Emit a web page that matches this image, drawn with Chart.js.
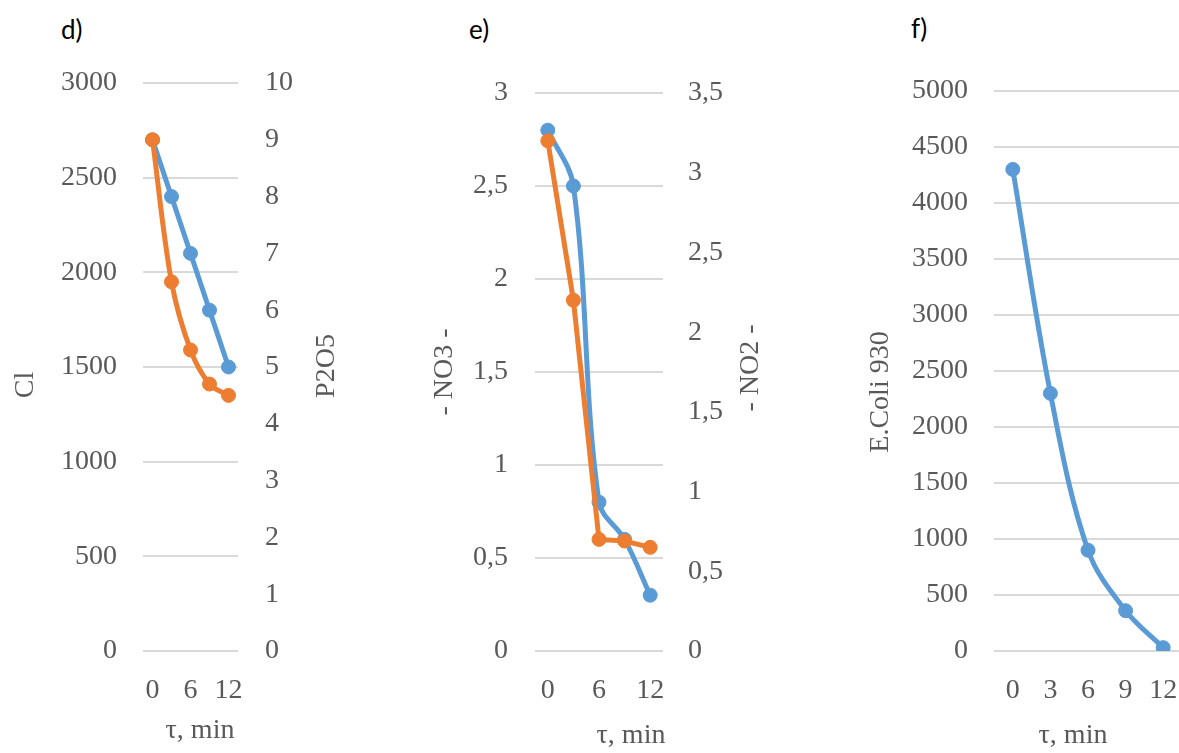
<!DOCTYPE html>
<html>
<head>
<meta charset="utf-8">
<script src="https://cdn.jsdelivr.net/npm/chart.js@4.4.1/dist/chart.umd.min.js"></script>
<style>
  html, body { margin: 0; padding: 0; background: #fff; overflow: hidden; }
  body { width: 1179px; height: 753px; position: relative; }
  canvas { position: absolute; top: 0; }
  .tag { position: absolute; font-family: Lato, "Open Sans", sans-serif; font-size: 26px; color: #000; }
</style>
</head>
<body>
<div class="tag" style="left:61px;top:13px">d)</div>
<div class="tag" style="left:469px;top:13px">e)</div>
<div class="tag" style="left:911px;top:12px">f)</div>
<canvas id="chartD" width="350" height="753" style="left:0px"></canvas>
<canvas id="chartE" width="398" height="753" style="left:380px"></canvas>
<canvas id="chartF" width="390" height="753" style="left:800px"></canvas>
<script>
// time, min
const times = ['0', '3', '6', '9', '12'];

// panel d
const clValues = [2700, 2400, 2100, 1800, 1500];
const p2o5Values = [9.0, 6.5, 5.3, 4.7, 4.5];
const clTicks = { min: 0, max: 3000, step: 500 };
const p2o5Ticks = { min: 0, max: 10, step: 1 };

// panel e
const no3Values = [2.8, 2.5, 0.8, 0.6, 0.3];
const no2Values = [3.2, 2.2, 0.7, 0.69, 0.65];
const no3Ticks = { min: 0, max: 3, step: 0.5 };
const no2Ticks = { min: 0, max: 3.5, step: 0.5 };

// panel f
const ecoliValues = [4300, 2300, 900, 360, 30];
const ecoliTicks = { min: 0, max: 5000, step: 500 };

const BLUE = '#5B9BD5';
const ORANGE = '#ED7D31';
const GREY = '#595959';
const FONT = '"Liberation Serif", "Times New Roman", serif';

Chart.defaults.font.family = FONT;
Chart.defaults.font.size = 28;
Chart.defaults.color = GREY;

// draws axis titles as plain canvas text
const freeText = {
    id: 'freeText',
    afterDraw(chart, args, opts) {
        const ctx = chart.ctx;
        (opts.items || []).forEach(it => {
            ctx.save();
            ctx.font = '28px ' + FONT;
            ctx.fillStyle = GREY;
            ctx.textAlign = 'center';
            ctx.textBaseline = 'middle';
            ctx.translate(it.x, it.y);
            if (it.up) ctx.rotate(-Math.PI / 2);
            ctx.fillText(it.text, 0, 0);
            ctx.restore();
        });
    }
};

const comma = v => String(v).replace('.', ',');

function xAxis(everyOther) {
    return {
        type: 'category',
        offset: true,
        grid: { display: false },
        border: { display: false },
        afterFit: s => {
            s.height = 102;
            s.paddingLeft = 0;
            s.paddingRight = 0;
        },
        ticks: {
            autoSkip: false,
            maxRotation: 0,
            padding: 15,
            callback: function (v, i) {
                if (everyOther && i % 2 === 1) return '';
                return this.getLabelForValue(v);
            }
        }
    };
}

function yAxis(t, pos, width, pad, grid, fmt) {
    return {
        type: 'linear',
        position: pos,
        min: t.min,
        max: t.max,
        border: { display: false },
        grid: grid ? { color: '#d9d9d9', lineWidth: 2, drawTicks: false } : { display: false, drawOnChartArea: false, drawTicks: false },
        afterFit: s => { s.width = width; },
        ticks: {
            stepSize: t.step,
            padding: pad,
            callback: fmt || (v => v)
        }
    };
}

function line(data, color, axis, tension, order) {
    return {
        data: data,
        yAxisID: axis,
        borderColor: color,
        backgroundColor: color,
        borderWidth: 5,
        pointRadius: 7,
        pointBorderWidth: 1,
        pointBackgroundColor: color,
        pointBorderColor: color,
        tension: tension,
        order: order
    };
}

const common = {
    responsive: false,
    animation: false,
    devicePixelRatio: 1,
    events: []
};

new Chart(document.getElementById('chartD'), {
    type: 'line',
    data: {
        labels: times,
        datasets: [
            line(clValues, BLUE, 'y', 0.35, 1),
            line(p2o5Values, ORANGE, 'y1', 0.35, 0)
        ]
    },
    options: Object.assign({}, common, {
        layout: { padding: { top: 83, bottom: 0, left: 0, right: 0 } },
        scales: {
            x: xAxis(true),
            y: yAxis(clTicks, 'left', 143, 26, true),
            y1: yAxis(p2o5Ticks, 'right', 112, 27, false)
        },
        plugins: {
            legend: { display: false },
            tooltip: { enabled: false },
            freeText: { items: [
                { text: 'Cl', x: 26, y: 385, up: true },
                { text: 'P2O5', x: 327, y: 366, up: true },
                { text: 'τ, min', x: 200, y: 731 }
            ] }
        }
    }),
    plugins: [freeText]
});

new Chart(document.getElementById('chartE'), {
    type: 'line',
    data: {
        labels: times,
        datasets: [
            line(no3Values, BLUE, 'y', 0.35, 1),
            line(no2Values, ORANGE, 'y1', 0, 0)
        ]
    },
    options: Object.assign({}, common, {
        layout: { padding: { top: 93, bottom: 0, left: 0, right: 0 } },
        scales: {
            x: xAxis(true),
            y: yAxis(no3Ticks, 'left', 155, 27, true, comma),
            y1: yAxis(no2Ticks, 'right', 115, 25, false, comma)
        },
        plugins: {
            legend: { display: false },
            tooltip: { enabled: false },
            freeText: { items: [
                { text: '- NO3 -', x: 65, y: 372, up: true },
                { text: '- NO2 -', x: 371, y: 368, up: true },
                { text: 'τ, min', x: 251, y: 736 }
            ] }
        }
    }),
    plugins: [freeText]
});

new Chart(document.getElementById('chartF'), {
    type: 'line',
    data: {
        labels: times,
        datasets: [
            line(ecoliValues, BLUE, 'y', 0.35, 0)
        ]
    },
    options: Object.assign({}, common, {
        layout: { padding: { top: 91, bottom: 0, left: 0, right: 3.5 } },
        scales: {
            x: xAxis(false),
            y: yAxis(ecoliTicks, 'left', 194, 26, true)
        },
        plugins: {
            legend: { display: false },
            tooltip: { enabled: false },
            freeText: { items: [
                { text: 'E.Coli 930', x: 81, y: 392, up: true },
                { text: 'τ, min', x: 273, y: 736 }
            ] }
        }
    }),
    plugins: [freeText]
});
</script>
</body>
</html>
